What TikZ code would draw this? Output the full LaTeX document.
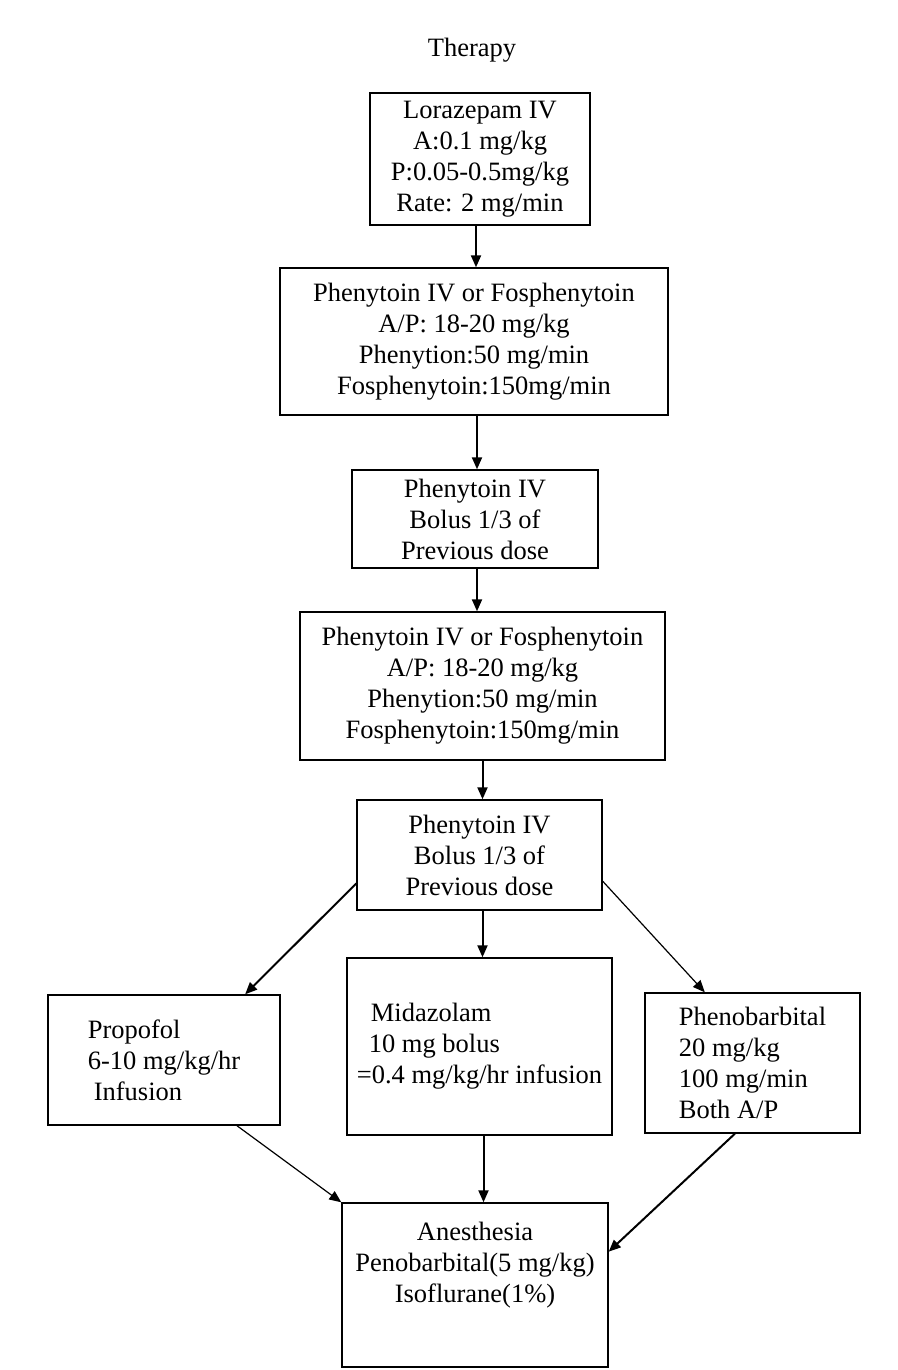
\documentclass[tikz,border=0pt]{standalone}
\usepackage{fontspec}
\setmainfont{Liberation Serif}
\usetikzlibrary{positioning, arrows.meta}

\begin{document}
\begin{tikzpicture}[x=1pt, y=-1pt,
    every node/.style={font=\fontsize{26.5}{31}\selectfont},
    drug/.style={rectangle, draw, line width=1.4pt, align=center, inner sep=3pt},
    pick/.style={rectangle, draw, line width=1.4pt, align=left, inner sep=3pt},
    arrow/.style={-{Triangle[length=12pt, width=10pt]}, line width=2pt},
    thinarrow/.style={-{Triangle[length=12pt, width=10pt]}, line width=1.2pt}]

  \useasboundingbox (0,0) rectangle (897,1370);

  \node (title) at (472,50) {Therapy};

  \node[drug, minimum width=220pt, minimum height=132pt] (loraz) at (480,159)
    {Lorazepam IV\\A:0.1 mg/kg\\P:0.05-0.5mg/kg\\Rate: 2 mg/min};
  \node[drug, minimum width=388pt, minimum height=147pt] (phen1) at (474,341.5)
    {Phenytoin IV or Fosphenytoin\\A/P: 18-20 mg/kg\\Phenytion:50 mg/min\\Fosphenytoin:150mg/min};
  \node[drug, minimum width=246pt, minimum height=98pt] (bolus1) at (475,519)
    {Phenytoin IV\\Bolus 1/3 of\\Previous dose};
  \node[drug, minimum width=365pt, minimum height=148pt] (phen2) at (482.5,686)
    {Phenytoin IV or Fosphenytoin\\A/P: 18-20 mg/kg\\Phenytion:50 mg/min\\Fosphenytoin:150mg/min};
  \node[drug, minimum width=245pt, minimum height=110pt] (bolus2) at (479.5,855)
    {Phenytoin IV\\Bolus 1/3 of\\Previous dose};

  \node[pick, minimum width=232pt, minimum height=130pt] (propofol) at (164,1060)
    {Propofol\\6-10 mg/kg/hr\\\hspace{6pt}Infusion};
  \node[pick, minimum width=265pt, minimum height=177pt] (midaz) at (479.5,1046.5)
    {\hspace{14pt}Midazolam\\\hspace{12pt}10 mg bolus\\=0.4 mg/kg/hr infusion};
  \node[pick, minimum width=215pt, minimum height=140pt] (pheno) at (752.5,1063)
    {Phenobarbital\\20 mg/kg\\100 mg/min\\Both A/P};

  \node[drug, minimum width=266pt, minimum height=164pt, text depth=46pt] (anest) at (475,1285)
    {Anesthesia\\Penobarbital(5 mg/kg)\\Isoflurane(1\%)};

  \draw[arrow] ([xshift=-4pt]loraz.south) -- ([xshift=-4pt]loraz.south |- phen1.north);
  \draw[arrow] ([xshift=3pt]phen1.south) -- ([xshift=3pt]phen1.south |- bolus1.north);
  \draw[arrow] ([xshift=2pt]bolus1.south) -- ([xshift=2pt]bolus1.south |- phen2.north);
  \draw[arrow] (phen2.south) -- (phen2.south |- bolus2.north);
  \draw[arrow] ([xshift=3pt]bolus2.south) -- ([xshift=3pt]bolus2.south |- midaz.north);
  \draw[arrow] ([xshift=4pt]midaz.south) -- ([xshift=4pt]midaz.south |- anest.north);
  \draw[arrow] (bolus2.193) -- (propofol.39);
  \draw[thinarrow] (bolus2.-12) -- (pheno.124);
  \draw[thinarrow] (propofol.-42) -- (anest.north west);
  \draw[arrow] (pheno.-104) -- (anest.14);
\end{tikzpicture}
\end{document}
